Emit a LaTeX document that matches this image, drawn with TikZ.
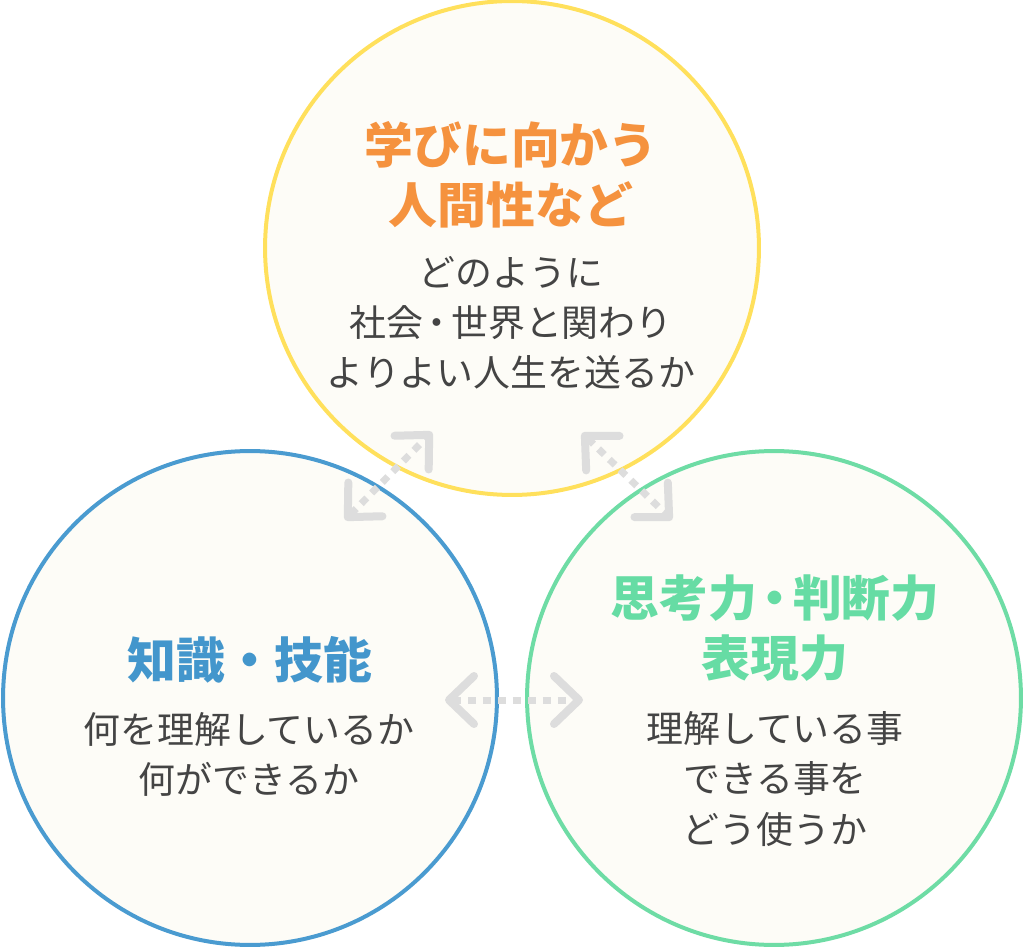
\documentclass[tikz,border=0pt]{standalone}
\usepackage{fontspec}
\usetikzlibrary{arrows.meta}
\newfontfamily\jpfont{Noto Sans CJK JP}
\definecolor{cream}{HTML}{FDFCF7}
\definecolor{learnyellow}{HTML}{FFE05C}
\definecolor{skillblue}{HTML}{4A9BD0}
\definecolor{thinkgreen}{HTML}{6EDCA5}
\definecolor{learnorange}{HTML}{F5923E}
\definecolor{skilltext}{HTML}{4396CC}
\definecolor{thinktext}{HTML}{66DCA4}
\definecolor{bodygray}{HTML}{444444}
\definecolor{arrowgray}{HTML}{DDDDDD}
\tikzset{
  title/.style={align=center,font=\jpfont\bfseries\fontsize{27.8}{34}\selectfont},
  body/.style={align=center,text=bodygray,font=\jpfont\fontsize{21}{28.5}\selectfont},
  link/.style={draw=arrowgray,line width=0.14cm,dash pattern=on 0.16cm off 0.14cm,
    {Straight Barb[round,length=0.5cm,width=0.96cm,line width=0.16cm]}-{Straight Barb[round,length=0.5cm,width=0.96cm,line width=0.16cm]}}
}
\begin{document}
\begin{tikzpicture}[x=0.02cm,y=-0.02cm]
            \useasboundingbox (0,0) rectangle (1024,949);
            \begin{scope}[every node/.style={circle,line width=0.08cm,fill=cream,minimum size=9.88cm,inner sep=0pt}]
                \node[draw=skillblue] (C1) at (250, 698) {};
                \node[draw=thinkgreen] (C2) at (774, 698) {};
                \node[draw=learnyellow] (C0) at (512, 248) {};
            \end{scope}
            % titles and texts
            \node[title,text=learnorange] (T0) at (511, 175) {学びに向かう\\人間性など};
            \node[body] (B0) at (511, 323) {どのように\\社会\kern-0.12em・\kern-0.12em世界と関わり\\よりよい人生を送るか};
            \node[title,text=skilltext] (T1) at (250, 660) {知識・技能};
            \node[body] (B1) at (249, 754) {何を理解しているか\\何ができるか};
            \node[title,text=thinktext] (T2) at (775, 628) {思考力\kern-0.13em・\kern-0.13em判断力\\表現力};
            \node[body] (B2) at (775, 779) {理解している事\\できる事を\\どう使うか};
            % arrows
            \coordinate (A1) at (345, 520);
            \coordinate (A2) at (432, 432);
            \coordinate (B1) at (582, 433);
            \coordinate (B2) at (672, 520);
            \coordinate (D1) at (445, 700);
            \coordinate (D2) at (583, 700);
            \draw[link] (A1) -- (A2);
            \draw[link] (B1) -- (B2);
            \draw[link] (D1) -- (D2);
        \end{tikzpicture}
\end{document}
